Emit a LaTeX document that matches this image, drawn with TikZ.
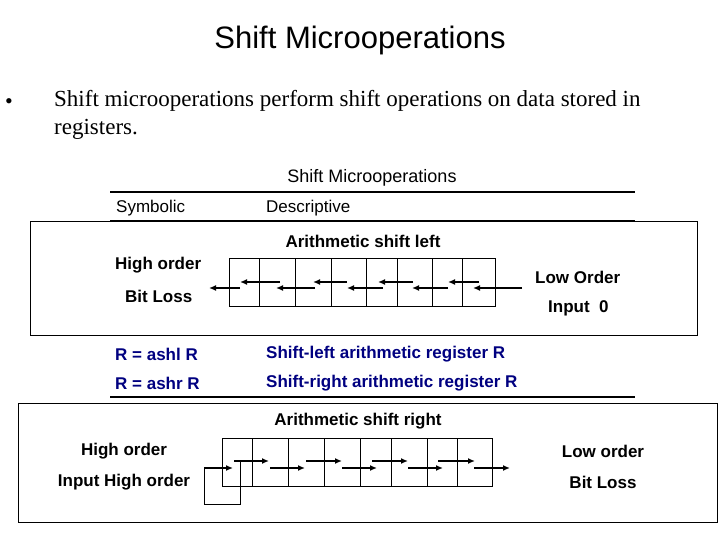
\documentclass[tikz,border=0pt]{standalone}
\usepackage{fontspec}
\setmainfont{Liberation Serif}
\newfontfamily\ar{Liberation Sans}
\usetikzlibrary{arrows.meta}
\begin{document}
\begin{tikzpicture}[x=1pt,y=-1pt,
  lbl/.style={font=\ar\bfseries\fontsize{17}{19}\selectfont,inner sep=0pt},
  plbl/.style={font=\ar\fontsize{17}{19}\selectfont,inner sep=0pt},
  blbl/.style={lbl,text=blue!50!black},
  ar/.style={line width=1.6pt,-{Latex[length=7pt,width=6pt]}},
  reg/.style={draw,line width=0.8pt}]
\useasboundingbox (0,0) rectangle (720,540);
\node[font=\ar\fontsize{31}{35}\selectfont] (title) at (360,40) {Shift Microoperations};
\node[font=\fontsize{22}{26}\selectfont,anchor=west,inner sep=0pt] (bul) at (5,104) {\textbullet};
\node[font=\fontsize{23}{28}\selectfont,anchor=north west,align=left,inner sep=0pt] (txt) at (54,90) {Shift microoperations perform shift operations on data stored in\\registers.};
\node[plbl,font=\ar\fontsize{18}{20}\selectfont] (hd) at (372,178) {Shift Microoperations};
\draw[line width=2.4pt] (110,192) -- (635,192);
\node[plbl,anchor=west] (sy) at (116,208) {Symbolic};
\node[plbl,anchor=west] (de) at (266,208) {Descriptive};
\draw[line width=1pt] (110,221) -- (635,221);
\draw (30,221) rectangle (697,335);
\node[lbl] (asl) at (363,241) {Arithmetic shift left};
\node[lbl,anchor=west] (ho) at (115,265) {High order};
\node[lbl,anchor=west] (bl) at (125,296) {Bit Loss};
\node[lbl,anchor=west] (lo) at (535,277) {Low Order};
\node[lbl,anchor=west] (in) at (548,308) {Input\ \ 0};
\foreach \a/\b in {229/259,259/295,295/331,331/366,366/397,397/432,432/462,462/495}
  \draw[reg] (\a,258) rectangle (\b,306);
\foreach \a/\b/\y in {522/473/288,479/448/282,448/412/288,413/378/282,383/347/288,347/313/282,315/276/288,280/240/282,240/209/288}
  \draw[ar] (\a,\y) -- (\b,\y);
\node[blbl,anchor=west] (r1) at (115,354) {R = ashl R};
\node[blbl,anchor=west] (d1) at (266,354) {Shift-left arithmetic register R};
\node[blbl,anchor=west] (r2) at (115,383) {R = ashr R};
\node[blbl,anchor=west] (d2) at (266,383) {Shift-right arithmetic register R};
\draw[line width=2.4pt] (110,397) -- (635,397);
\draw (18,403) rectangle (717,522);
\node[lbl] (asr) at (358,421) {Arithmetic shift right};
\node[lbl] (ho2) at (124,451) {High order};
\node[lbl] (ih) at (124,482) {Input High order};
\node[lbl] (lo2) at (603,451) {Low order};
\node[lbl] (bl2) at (603,482) {Bit Loss};
\foreach \a/\b in {222/252,252/288,288/324,324/360,360/391,391/427,427/457,457/492}
  \draw[reg] (\a,438) rectangle (\b,486);
\foreach \a/\b/\y in {234/269/461,270/305/468,306/342/461,342/377/468,372/408/461,408/443/468,438/475/461,474/510/468}
  \draw[ar] (\a,\y) -- (\b,\y);
\draw[line width=0.8pt] (240,462) -- (240,504) -- (204,504) -- (204,468);
\draw[ar] (204,468) -- (233,468);
\end{tikzpicture}
\end{document}
